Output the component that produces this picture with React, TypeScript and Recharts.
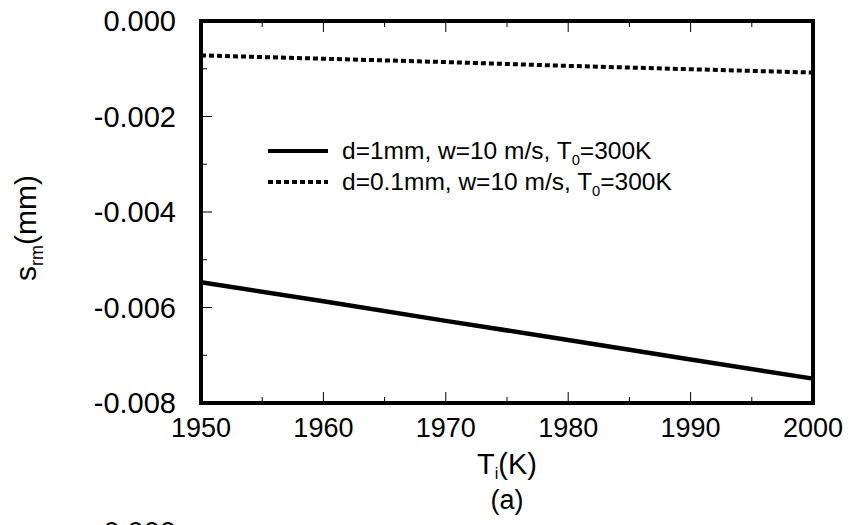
import React from 'react';
import { LineChart, Line, XAxis, YAxis, Legend } from 'recharts';

// T_i (K) sample points
const temps = [1950, 1960, 1970, 1980, 1990, 2000];
// s_rm (mm), d = 1 mm
const thickValues = [-0.00547, -0.00587, -0.00628, -0.00668, -0.00709, -0.00749];
// s_rm (mm), d = 0.1 mm
const thinValues = [-0.00072, -0.00079, -0.00086, -0.00094, -0.00101, -0.00108];

const seriesNames = ['d=1mm, w=10 m/s, T0=300K', 'd=0.1mm, w=10 m/s, T0=300K'];

const xTicks = [1950, 1955, 1960, 1965, 1970, 1975, 1980, 1985, 1990, 1995, 2000];
const yTicks = [0, -0.001, -0.002, -0.003, -0.004, -0.005, -0.006, -0.007, -0.008];
const yTickLabels = ['0.000', '-0.002', '-0.004', '-0.006', '-0.008'];

const data = temps.map((t, i) => ({ t, thick: thickValues[i], thin: thinValues[i] }));

const FONT = '"Liberation Sans", Arial, Helvetica, sans-serif';

const isMajorX = (v: number) => Math.round(v) % 10 === 0;
const isMajorY = (v: number) => Math.round(Math.abs(v) * 1000) % 2 === 0;

const BottomTick = ({ x, y, payload }: any) => {
  const major = isMajorX(payload.value);
  return (
    <g>
      <line x1={x} y1={y} x2={x} y2={y - (major ? 11 : 6)} stroke="#000" strokeWidth={1} />
      {major && (
        <text x={x} y={y + 34} textAnchor="middle" fontSize={27} fontFamily={FONT} fill="#000">
          {payload.value}
        </text>
      )}
    </g>
  );
};

const TopTick = ({ x, y, payload }: any) => {
  const major = isMajorX(payload.value);
  return <line x1={x} y1={y} x2={x} y2={y + (major ? 11 : 6)} stroke="#000" strokeWidth={1} />;
};

const LeftTick = ({ x, y, payload }: any) => {
  const major = isMajorY(payload.value);
  const idx = Math.round(Math.abs(payload.value) * 500);
  return (
    <g>
      <line x1={x} y1={y} x2={x + (major ? 11 : 6)} y2={y} stroke="#000" strokeWidth={1} />
      {major && (
        <text x={x - 25} y={y + 10} textAnchor="end" fontSize={29} fontFamily={FONT} fill="#000">
          {yTickLabels[idx]}
        </text>
      )}
    </g>
  );
};

const RightTick = ({ x, y, payload }: any) => {
  const major = isMajorY(payload.value);
  return <line x1={x} y1={y} x2={x - (major ? 11 : 6)} y2={y} stroke="#000" strokeWidth={1} />;
};

const withSub = (s: string) => {
  const parts = s.split('T0');
  return (
    <>
      {parts[0]}T<span style={{ fontSize: '0.6em', position: 'relative', top: '0.45em' }}>0</span>
      {parts[1]}
    </>
  );
};

const LegendBox = () => (
  <div style={{ fontFamily: FONT, fontSize: 24.5, color: '#000' }}>
    {seriesNames.map((name, i) => (
      <div key={name} style={{ display: 'flex', alignItems: 'center', height: 31 }}>
        <svg width={62} height={10} style={{ marginRight: 13 }}>
          <line
            x1={1}
            y1={5}
            x2={61}
            y2={5}
            stroke="#000"
            strokeWidth={4}
            strokeDasharray={i === 0 ? undefined : '5 3'}
          />
        </svg>
        <span style={{ whiteSpace: 'nowrap' }}>{withSub(name)}</span>
      </div>
    ))}
  </div>
);

const axisLine = { stroke: '#000', strokeWidth: 4, strokeLinecap: 'square' as const };

const XTitle = ({ viewBox }: any) => {
  const cx = viewBox.x + viewBox.width / 2;
  const top = viewBox.y;
  return (
    <g fontFamily={FONT} fill="#000">
      <text x={cx} y={top + 71} textAnchor="middle" fontSize={29}>
        T<tspan dy={5} fontSize={16}>i</tspan>
        <tspan dy={-5}>(K)</tspan>
      </text>
      <text x={cx} y={top + 106} textAnchor="middle" fontSize={27}>
        (a)
      </text>
    </g>
  );
};

const YTitle = () => (
  <g fontFamily={FONT} fill="#000">
    <text transform="translate(36,228) rotate(-90)" textAnchor="middle" fontSize={30}>
      s<tspan dy={7} fontSize={18}>rm</tspan>
      <tspan dy={-7}>(mm)</tspan>
    </text>
    {/* top of the next panel's label, cut off by the frame */}
    <text x={176} y={542} textAnchor="end" fontSize={29}>
      0.000
    </text>
  </g>
);

export default function App() {
  return (
    <div style={{ position: 'absolute', left: 0, top: 0, width: 849, height: 525, overflow: 'hidden', background: '#fff' }}>
      <LineChart width={849} height={525} data={data} margin={{ top: 20, right: 35, left: 0, bottom: 0 }}>
        <XAxis
          dataKey="t"
          type="number"
          domain={[1950, 2000]}
          ticks={xTicks}
          interval={0}
          tickSize={0}
          tickMargin={0}
          tickLine={false}
          axisLine={axisLine}
          height={122}
          tick={(p: any) => <BottomTick {...p} />}
          label={<XTitle />}
        />
        <XAxis
          xAxisId="top"
          orientation="top"
          dataKey="t"
          type="number"
          domain={[1950, 2000]}
          ticks={xTicks}
          interval={0}
          tickSize={0}
          tickMargin={0}
          tickLine={false}
          axisLine={axisLine}
          height={1}
          tick={(p: any) => <TopTick {...p} />}
        />
        <YAxis
          type="number"
          domain={[-0.008, 0]}
          ticks={yTicks}
          interval={0}
          tickSize={0}
          tickMargin={0}
          tickLine={false}
          axisLine={axisLine}
          width={201}
          tick={(p: any) => <LeftTick {...p} />}
          label={<YTitle />}
        />
        <YAxis
          yAxisId="right"
          orientation="right"
          type="number"
          domain={[-0.008, 0]}
          ticks={yTicks}
          interval={0}
          tickSize={0}
          tickMargin={0}
          tickLine={false}
          axisLine={axisLine}
          width={1}
          tick={(p: any) => <RightTick {...p} />}
        />
        <Legend
          layout="horizontal"
          align="center"
          verticalAlign="middle"
          content={() => <LegendBox />}
          wrapperStyle={{ left: 267, top: 135, width: 460 }}
        />
        <Line
          dataKey="thick"
          name={seriesNames[0]}
          stroke="#000"
          strokeWidth={4.5}
          dot={false}
          activeDot={false}
          isAnimationActive={false}
          type="linear"
        />
        <Line
          dataKey="thin"
          name={seriesNames[1]}
          stroke="#000"
          strokeWidth={4}
          strokeDasharray="5 3"
          dot={false}
          activeDot={false}
          isAnimationActive={false}
          type="linear"
        />
      </LineChart>
    </div>
  );
}
